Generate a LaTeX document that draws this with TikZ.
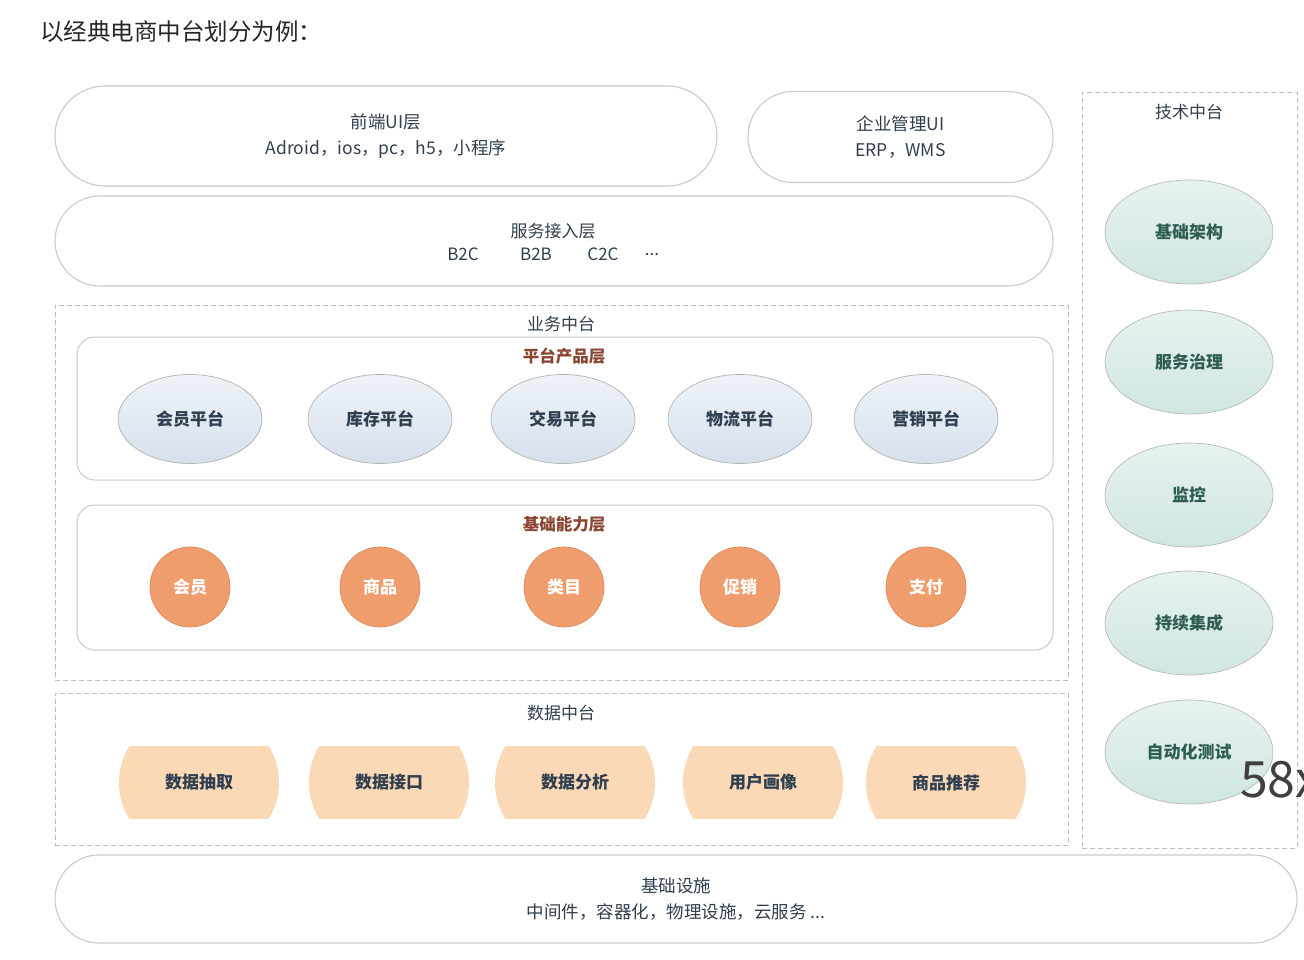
\documentclass[tikz,border=0pt]{standalone}
\usepackage{fontspec}
\setmainfont{Noto Sans CJK SC}
\usetikzlibrary{shapes.geometric}
\definecolor{txt}{HTML}{2F3F50}
\definecolor{brn}{HTML}{8A4530}
\definecolor{edgegray}{HTML}{CACACA}
\definecolor{dashgray}{HTML}{BEBEBE}
\definecolor{bluetop}{HTML}{EEF3F8}
\definecolor{bluebot}{HTML}{D6E0EC}
\definecolor{tealtop}{HTML}{E6F2F0}
\definecolor{tealbot}{HTML}{D0E6E2}
\definecolor{tealtxt}{HTML}{2E5D55}
\definecolor{orng}{HTML}{EF9D6C}
\definecolor{orngedge}{HTML}{DB8A5C}
\definecolor{peach}{HTML}{FCD9B6}
\tikzset{
  pill/.style={draw=edgegray, line width=1.1pt, fill=white, align=center, text=txt,
    font=\fontsize{17.5}{26}\selectfont, inner sep=0pt},
  dashbox/.style={draw=dashgray, line width=0.9pt, dash pattern=on 5pt off 3pt, inner sep=0pt},
  layerbox/.style={draw=edgegray, line width=1pt, rounded corners=18pt, inner sep=0pt},
  lbl/.style={text=txt, font=\fontsize{17}{19}\selectfont, inner sep=0pt},
  brnlbl/.style={text=brn, font=\fontsize{16.5}{18}\selectfont\bfseries, inner sep=0pt},
  plat/.style={ellipse, draw=gray!60, line width=0.7pt, top color=bluetop, bottom color=bluebot,
    minimum width=144pt, minimum height=89pt, inner sep=0pt, text=txt,
    font=\fontsize{17}{19}\selectfont\bfseries},
  tech/.style={ellipse, draw=gray!55, line width=0.7pt, top color=tealtop, bottom color=tealbot,
    minimum width=168pt, minimum height=104pt, inner sep=0pt, text=tealtxt,
    font=\fontsize{17}{19}\selectfont\bfseries},
  capcirc/.style={circle, draw=orngedge, line width=0.7pt, fill=orng, minimum size=80pt,
    inner sep=0pt, text=white, font=\fontsize{17}{19}\selectfont\bfseries},
  datab/.style={rectangle, minimum width=160pt, minimum height=72pt, inner sep=0pt,
    text=txt, font=\fontsize{17}{19}\selectfont\bfseries,
    path picture={\fill[peach] (path picture bounding box.center) ellipse (80 and 74);}}
}
\begin{document}
\begin{tikzpicture}[x=1pt,y=-1pt]
\useasboundingbox (0,0) rectangle (1304,960);
\fill[white] (0,0) rectangle (1304,960);

% title
\node[anchor=west, text=black!85, font=\fontsize{23.5}{25}\selectfont, inner sep=0pt] (title) at (40,32) {以经典电商中台划分为例：};

% top pills
\node[pill, minimum width=662pt, minimum height=100pt, rounded corners=50pt] (ui) at (386,136) {前端UI层\\Adroid，ios，pc，h5，小程序};
\node[pill, minimum width=305pt, minimum height=91pt, rounded corners=45pt] (eui) at (900.5,137) {企业管理UI\\ERP，WMS};
\node[pill, minimum width=998pt, minimum height=90pt, rounded corners=45pt] (svc) at (554,241) {};
\node[lbl] (svct) at (553,231) {服务接入层};
\node[lbl] (b2c) at (463,254) {B2C};
\node[lbl] (b2b) at (536,254) {B2B};
\node[lbl] (c2c) at (603,254) {C2C};
\node[lbl] (dots) at (652,255) {...};

% business middle platform
\node[dashbox, minimum width=1013pt, minimum height=375pt] (biz) at (561.5,492.5) {};
\node[lbl] (bizt) at (561,324) {业务中台};
\node[layerbox, minimum width=976pt, minimum height=143pt] (prod) at (565,408.5) {};
\node[brnlbl] (prodt) at (564,356) {平台产品层};
\node[plat] (p1) at (190,419) {会员平台};
\node[plat] (p2) at (380,419) {库存平台};
\node[plat] (p3) at (563,419) {交易平台};
\node[plat] (p4) at (740,419) {物流平台};
\node[plat] (p5) at (926,419) {营销平台};

\node[layerbox, minimum width=976pt, minimum height=145pt] (base) at (565,577.5) {};
\node[brnlbl] (baset) at (564,524) {基础能力层};
\node[capcirc] (c1) at (190,587) {会员};
\node[capcirc] (c2) at (380,587) {商品};
\node[capcirc] (c3) at (564,587) {类目};
\node[capcirc] (c4) at (740,587) {促销};
\node[capcirc] (c5) at (926,587) {支付};

% data middle platform
\node[dashbox, minimum width=1013pt, minimum height=152pt] (data) at (561.5,769) {};
\node[lbl] (datat) at (561,713) {数据中台};
\node[datab] (d1) at (199,782.5) {数据抽取};
\node[datab] (d2) at (389,782.5) {数据接口};
\node[datab] (d3) at (575,782.5) {数据分析};
\node[datab] (d4) at (763,782.5) {用户画像};
\node[datab] (d5) at (946,782.5) {商品推荐};

% technical middle platform
\node[dashbox, minimum width=215pt, minimum height=756pt] (techbox) at (1189.5,470) {};
\node[lbl] (techt) at (1189,112) {技术中台};
\node[tech] (t1) at (1189,232) {基础架构};
\node[tech] (t2) at (1189,362) {服务治理};
\node[tech] (t3) at (1189,495) {监控};
\node[tech] (t4) at (1189,623) {持续集成};
\node[tech] (t5) at (1189,752) {自动化测试};

% infrastructure
\node[pill, minimum width=1242pt, minimum height=88pt, rounded corners=44pt] (infra) at (676,899) {基础设施\\中间件，容器化，物理设施，云服务 ...};

% overlay text
\node[anchor=west, text=black!75, font=\fontsize{50}{52}\selectfont, inner sep=0pt] (wm) at (1240,780) {58x};
\end{tikzpicture}
\end{document}
